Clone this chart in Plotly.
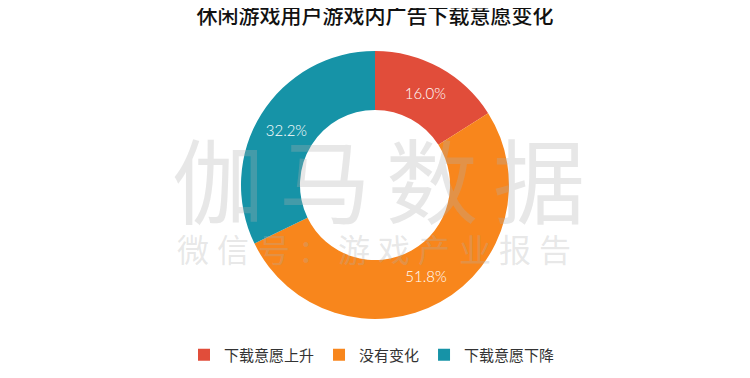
import plotly.graph_objects as go

title = "休闲游戏用户游戏内广告下载意愿变化"
categories = ["下载意愿上升", "没有变化", "下载意愿下降"]
values = [16.0, 51.8, 32.2]
colors = ["#E14D3A", "#F8861C", "#1693A7"]
wm_big = "伽马数据"
wm_small = "微信号：游戏产业报告"

# page body has an 8px default margin; figure sized to fit the window
OFF = 8
W, H = 750 - OFF, 378 - OFF
cx, cy, R = 375 - OFF, 185 - OFF, 134


def px(x):
    return x / W


def py(y):
    return 1 - y / H


fig = go.Figure(go.Pie(
    labels=categories,
    values=values,
    marker=dict(colors=colors, line=dict(width=0)),
    hole=0.56,
    sort=False,
    direction="clockwise",
    rotation=0,
    texttemplate="%{value:.1f}%",
    textposition="inside",
    insidetextorientation="horizontal",
    textfont=dict(family="Lato", size=15, color="white", weight=300),
    domain=dict(x=[px(cx - R), px(cx + R)], y=[py(cy + R), py(cy - R)]),
    hoverinfo="label+percent",
))

annotations = []
big_sp = 107
for i, ch in enumerate(wm_big):
    x = 378 - OFF + (i - 1.5) * big_sp
    annotations.append(dict(text=ch, x=px(x), y=py(176 - OFF), xref="paper", yref="paper",
                            xanchor="center", yanchor="middle", showarrow=False,
                            font=dict(family="Noto Sans CJK SC", size=92, color="rgba(175,175,175,0.3)")))
small_sp = 40.2
for i, ch in enumerate(wm_small):
    x = 374 - OFF + (i - 4.5) * small_sp
    annotations.append(dict(text=ch, x=px(x), y=py(248 - OFF), xref="paper", yref="paper",
                            xanchor="center", yanchor="middle", showarrow=False,
                            font=dict(family="Noto Sans CJK SC", size=32, color="rgba(175,175,175,0.3)")))

fig.update_layout(
    width=W, height=H,
    margin=dict(l=0, r=0, t=0, b=0, autoexpand=False),
    paper_bgcolor="white",
    plot_bgcolor="white",
    title=dict(text=title, x=px(375 - OFF), xanchor="center", y=1, yanchor="top",
               font=dict(family="Noto Sans CJK SC", size=21, color="#111111", weight=500)),
    legend=dict(orientation="h", x=px(372 - OFF), xanchor="center", y=py(355 - OFF), yanchor="middle",
                font=dict(family="Noto Sans CJK SC", size=15, color="#333333"),
                itemclick=False, itemdoubleclick=False),
    showlegend=True,
    annotations=annotations,
)

fig.write_html("out.html")
